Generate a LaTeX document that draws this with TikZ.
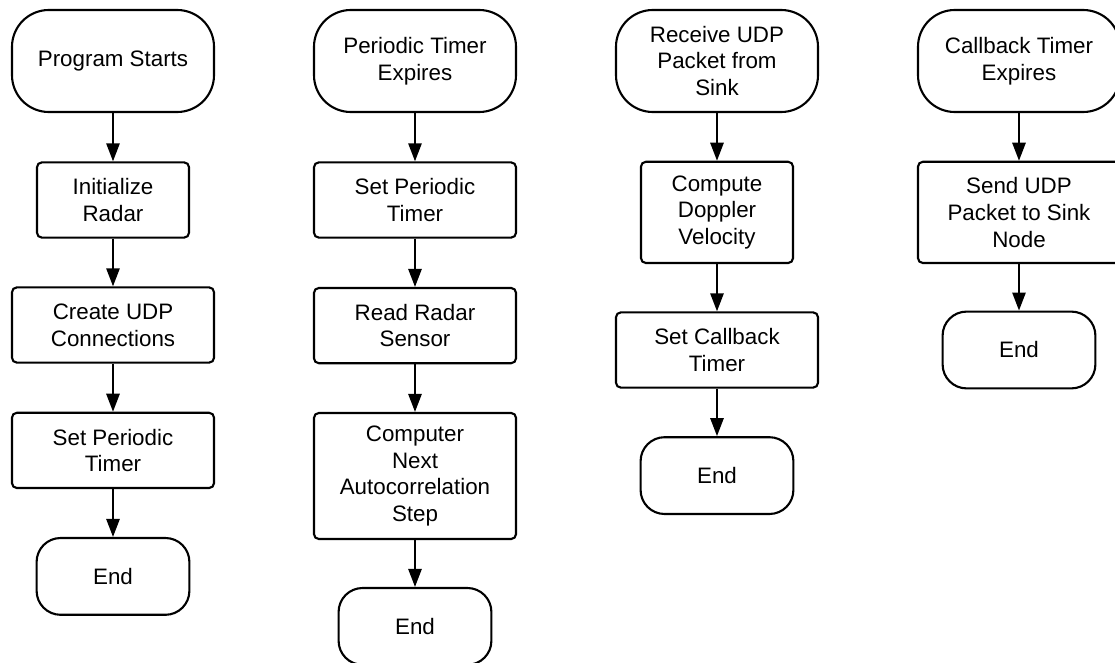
\documentclass[tikz,border=0pt]{standalone}
\usepackage{fontspec}
\setmainfont{Liberation Sans}
\usetikzlibrary{arrows.meta}

\tikzstyle{textonly}=[align=center, font=\fontsize{15.9}{19}\selectfont]
\tikzstyle{term}=[textonly, rectangle, draw=black, rounded corners=0.92cm, minimum width=5.05cm, minimum height=2.55cm]
\tikzstyle{endterm}=[term, rounded corners=0.6cm, minimum width=3.82cm, minimum height=1.92cm]
\tikzstyle{box}=[textonly, rectangle, draw=black, rounded corners=0.12cm, minimum width=5.05cm, minimum height=1.88cm]
\tikzstyle{narrowbox}=[box, minimum width=3.8cm]

\begin{document}
\begin{tikzpicture}[line width=1.5pt, >={Triangle[length=0.45cm, width=0.33cm]}]
  \useasboundingbox (0,0) rectangle (27.875,-16.575);

  % Nodes: program start
  \node (start) [term] at (2.825,-1.525) {Program Starts};
  \node (initradar) [narrowbox] at (2.825,-5.0) {Initialize\\Radar};
  \node (createudp) [box] at (2.825,-8.125) {Create UDP\\Connections};
  \node (setperiodic) [box] at (2.825,-11.26) {Set Periodic\\Timer};
  \node (endstart) [endterm] at (2.825,-14.41) {End};

  % Nodes: periodic timer
  \node (periodic) [term] at (10.375,-1.525) {Periodic Timer\\Expires};
  \node (resetperiodic) [box] at (10.375,-5.0) {Set Periodic\\Timer};
  \node (readradar) [box] at (10.375,-8.14) {Read Radar\\Sensor};
  \node (autocorr) [box, minimum height=3.15cm] at (10.375,-11.9) {Computer\\Next\\Autocorrelation\\Step};
  \node (endperiodic) [endterm] at (10.375,-15.66) {End};

  % Nodes: UDP receive
  \node (receive) [term] at (17.925,-1.525) {Receive UDP\\Packet from\\Sink};
  \node (doppler) [narrowbox, minimum height=2.53cm] at (17.925,-5.31) {Compute\\Doppler\\Velocity};
  \node (setcallback) [box] at (17.925,-8.75) {Set Callback\\Timer};
  \node (endreceive) [endterm] at (17.925,-11.89) {End};

  % Nodes: callback timer
  \node (callback) [term] at (25.475,-1.525) {Callback Timer\\Expires};
  \node (sendudp) [box, minimum height=2.53cm] at (25.475,-5.31) {Send UDP\\Packet to Sink\\Node};
  \node (endcallback) [endterm] at (25.475,-8.75) {End};

  % Arrows
  \draw [->] (start) -- (initradar);
  \draw [->] (initradar) -- (createudp);
  \draw [->] (createudp) -- (setperiodic);
  \draw [->] (setperiodic) -- (endstart);

  \draw [->] (periodic) -- (resetperiodic);
  \draw [->] (resetperiodic) -- (readradar);
  \draw [->] (readradar) -- (autocorr);
  \draw [->] (autocorr) -- (endperiodic);

  \draw [->] (receive) -- (doppler);
  \draw [->] (doppler) -- (setcallback);
  \draw [->] (setcallback) -- (endreceive);

  \draw [->] (callback) -- (sendudp);
  \draw [->] (sendudp) -- (endcallback);
\end{tikzpicture}
\end{document}
